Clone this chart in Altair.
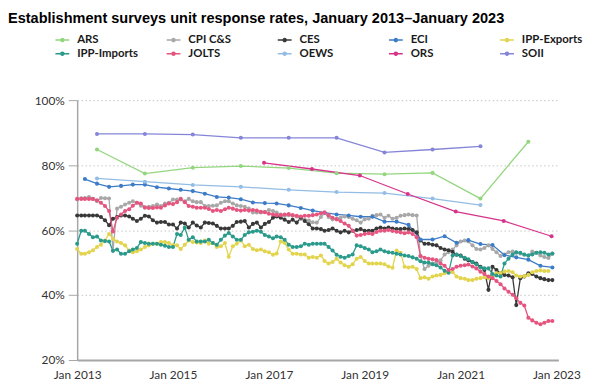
import altair as alt
import pandas as pd

# ---------------- data ----------------
series_order = ["ARS", "CPI C&S", "CES", "ECI", "IPP-Exports",
                "IPP-Imports", "JOLTS", "OEWS", "ORS", "SOII"]
series_colors = ["#93d67e", "#a8a8a8", "#383838", "#3c7cc6", "#e3d44e",
                 "#2a9a8b", "#e5557f", "#93bde4", "#d6348b", "#8585d8"]

ces = [64.5, 64.5, 64.5, 64.5, 64.5, 64.5, 64.0, 63.0, 61.5, 63.5,
       64.0, 64.5, 64.5, 64.2, 63.5, 62.8, 63.5, 64.4, 64.2, 63.0,
       62.3, 62.5, 62.5, 61.7, 61.7, 60.5, 62.3, 62.0, 60.8, 62.3,
       61.4, 60.8, 62.3, 62.2, 62.0, 61.3, 60.5, 60.5, 60.5, 61.3,
       62.5, 62.6, 62.8, 60.8, 61.9, 62.3, 60.8, 61.9, 62.5, 63.8,
       64.2, 63.8, 63.2, 62.5, 63.2, 62.3, 63.8, 62.8, 61.8, 60.5,
       60.5, 60.3, 59.8, 60.0, 60.5, 59.8, 59.3, 59.8, 59.3, 59.8,
       60.0, 60.3, 59.8, 59.8, 59.8, 60.5, 60.8, 60.5, 60.8, 60.5,
       60.3, 60.3, 60.5, 60.3, 60.0, 59.3, 56.8, 55.8, 55.8, 55.5,
       55.3, 54.5, 54.0, 53.8, 53.3, 52.4, 52.2, 51.2, 50.7, 50.2,
       49.7, 48.7, 47.7, 41.6, 48.7, 47.7, 46.7, 46.2, 46.0, 45.5,
       36.9, 45.2, 45.7, 46.7, 46.5, 45.7, 45.2, 44.9, 44.6, 44.6]

cpi = [69.5, 69.8, 69.9, 70.2, 69.6, 68.9, 69.9, 69.8, 69.7, 53.7,
       66.6, 67.2, 67.9, 68.4, 68.9, 68.4, 67.5, 66.9, 67.2, 67.4,
       67.9, 67.4, 68.2, 68.4, 69.4, 69.4, 69.4, 68.9, 69.6, 68.9,
       68.6, 68.6, 67.4, 67.4, 67.5, 67.6, 68.4, 68.9, 68.9, 68.2,
       67.6, 67.4, 67.2, 66.6, 65.4, 65.4, 65.4, 65.6, 66.2, 65.9,
       65.4, 64.8, 64.4, 64.6, 64.4, 64.2, 63.4, 63.2, 62.9, 62.4,
       62.3, 64.0, 65.2, 64.0, 63.3, 63.5, 63.8, 64.2, 64.0, 63.5,
       63.0, 62.3, 63.3, 63.5, 64.4, 64.6, 64.8, 63.8, 64.4, 63.5,
       63.8, 64.4, 64.6, 64.8, 64.6, 64.5, 52.0, 48.0, 49.0, 49.7,
       50.2, 50.7, 52.5, 53.2, 54.0, 55.3, 56.5, 56.8, 56.5, 55.3,
       54.2, 54.0, 54.5, 55.3, 54.2, 53.2, 52.0, 52.5, 53.2, 53.4,
       53.0, 52.8, 52.4, 52.2, 53.4, 53.0, 52.2, 51.7, 51.4, 52.7]

jolts = [69.6, 69.6, 69.6, 69.6, 69.6, 69.2, 68.4, 67.4, 65.9, 59.6,
         63.8, 64.8, 65.9, 66.4, 67.5, 68.4, 68.2, 67.0, 66.8, 66.8,
         67.0, 66.9, 67.6, 68.2, 68.0, 68.6, 69.6, 68.6, 67.4, 67.2,
         66.9, 66.9, 66.9, 66.5, 65.9, 66.2, 65.9, 66.4, 66.9, 66.6,
         66.2, 66.0, 66.2, 66.0, 66.2, 66.0, 65.6, 65.5, 65.0, 64.8,
         64.6, 64.6, 64.8, 64.9, 64.6, 64.4, 64.2, 64.4, 64.4, 64.6,
         64.8, 65.2, 65.4, 64.6, 63.8, 63.3, 62.8, 62.0, 61.3, 59.8,
         58.3, 58.5, 58.8, 59.0, 58.8, 59.4, 59.8, 59.8, 60.0, 59.7,
         59.5, 59.3, 59.0, 59.3, 58.8, 57.8, 52.0, 51.5, 51.2, 51.0,
         50.8, 49.7, 49.0, 47.7, 48.0, 48.7, 49.0, 49.2, 49.4, 48.8,
         48.2, 47.2, 46.5, 45.7, 45.2, 44.3, 43.3, 42.0, 41.0, 40.1,
         39.0, 37.6, 36.8, 33.0, 32.2, 31.5, 31.0, 31.5, 32.0, 32.0]

ipp_imports = [55.8, 59.8, 59.8, 58.8, 57.8, 58.0, 56.8, 56.6, 56.5, 53.6,
               54.0, 52.7, 52.7, 53.5, 54.0, 54.5, 56.3, 56.0, 55.8, 55.8,
               55.8, 55.5, 55.2, 54.8, 54.8, 58.8, 58.5, 60.8, 57.0, 57.8,
               56.5, 56.5, 56.5, 57.0, 56.0, 55.5, 57.0, 58.3, 59.1, 58.0,
               57.0, 57.0, 58.5, 59.3, 59.5, 59.8, 59.5, 58.5, 58.0, 57.5,
               58.0, 57.8, 57.0, 55.5, 54.8, 54.8, 55.0, 55.8, 55.5, 55.8,
               55.8, 55.8, 55.8, 54.8, 53.7, 52.4, 51.8, 51.5, 52.0, 52.5,
               55.3, 55.0, 54.5, 54.0, 53.2, 53.5, 54.0, 53.5, 53.2, 53.0,
               52.7, 52.5, 52.2, 52.0, 51.6, 51.2, 50.4, 50.0, 50.0, 49.5,
               49.2, 48.5, 47.5, 46.9, 52.2, 52.5, 52.0, 51.5, 51.0, 50.2,
               49.5, 48.5, 48.2, 48.2, 46.5, 46.0, 45.7, 49.7, 51.2, 52.5,
               53.2, 53.0, 52.5, 52.2, 52.5, 53.0, 53.2, 53.0, 52.5, 52.8]

ipp_exports = [54.2, 52.7, 52.7, 53.2, 53.8, 54.8, 55.5, 56.8, 58.8, 57.3,
               56.5, 56.0, 55.3, 53.7, 53.2, 53.5, 54.0, 54.8, 55.3, 55.8,
               55.8, 56.3, 56.3, 56.0, 55.3, 55.3, 54.2, 55.5, 56.8, 56.3,
               56.2, 56.0, 56.8, 55.8, 56.0, 54.8, 55.0, 56.0, 51.8, 55.0,
               55.8, 56.8, 55.0, 55.5, 54.2, 53.8, 54.0, 53.5, 53.2, 52.4,
               52.8, 56.5, 56.0, 54.0, 52.7, 52.7, 52.5, 52.5, 51.5, 51.7,
               51.5, 52.2, 50.5, 49.7, 50.2, 51.2, 50.0, 49.2, 48.7, 49.5,
               51.2, 51.7, 50.5, 49.7, 49.7, 49.7, 49.7, 49.5, 48.8, 48.4,
               53.7, 53.0, 48.7, 48.5, 48.7, 48.0, 45.2, 45.5, 45.0, 45.7,
               46.0, 46.2, 46.7, 47.2, 47.0, 45.7, 45.2, 45.0, 44.6, 44.6,
               45.0, 45.2, 45.5, 45.2, 45.8, 46.7, 46.8, 47.2, 47.4, 47.0,
               46.0, 45.7, 45.8, 46.2, 47.0, 47.4, 47.6, 47.4, 47.4]

eci = [75.7, 74.3, 73.3, 73.6, 74.0, 74.0, 73.2, 72.8, 72.4, 72.0,
       71.2, 70.2, 70.0, 69.5, 68.5, 68.3, 68.2, 67.6, 66.8, 66.0,
       65.4, 64.8, 64.5, 64.1, 64.1, 62.6, 62.6, 61.6, 57.1, 57.1,
       58.1, 56.1, 56.9, 55.7, 55.4, 52.3, 51.6, 50.9, 49.0, 48.5]

annual_years = [2013, 2014, 2015, 2016, 2017, 2018, 2019, 2020, 2021, 2022]
soii = [89.6, 89.6, 89.4, 88.4, 88.4, 88.4, 83.9, 84.8, 85.8]
oews = [75.9, 74.9, 73.9, 73.3, 72.4, 71.7, 71.4, 69.7, 67.7]
ars = [84.8, 77.4, 79.2, 79.7, 79.1, 77.5, 77.2, 77.6, 69.7, 87.2]
ors_years = [2016, 2017, 2018, 2019, 2020, 2021, 2022]
ors = [80.7, 78.8, 76.8, 71.1, 65.7, 62.8, 58.1]

# ---------------- build long table ----------------
rows = []


def monthly(name, vals):
    dates = pd.date_range("2013-01-01", periods=len(vals), freq="MS")
    for d, v in zip(dates, vals):
        rows.append({"series": name, "date": d.strftime("%Y-%m-%d"), "value": v})


def annual(name, years, vals, md):
    for y, v in zip(years, vals):
        rows.append({"series": name, "date": f"{y}-{md}", "value": v})


annual("ARS", annual_years, ars, "06-01")
monthly("CPI C&S", cpi)
monthly("CES", ces)
for d, v in zip(pd.date_range("2013-03-01", periods=len(eci), freq="3MS"), eci):
    rows.append({"series": "ECI", "date": d.strftime("%Y-%m-%d"), "value": v})
monthly("IPP-Exports", ipp_exports)
monthly("IPP-Imports", ipp_imports)
monthly("JOLTS", jolts)
annual("OEWS", annual_years, oews, "06-01")
annual("ORS", ors_years, ors, "11-25")
annual("SOII", annual_years, soii, "06-01")

df = pd.DataFrame(rows)
df["value"] = df["value"] / 100.0

legend_symbol = "M-1,0H1M0,-0.22A0.22,0.22,0,1,1,0,0.22A0.22,0.22,0,1,1,0,-0.22Z"

x_ticks = [alt.DateTime(year=y, month=1, date=1, utc=True) for y in range(2013, 2024, 2)]

chart = alt.Chart(df).mark_line(
    strokeWidth=1.3,
    point=alt.OverlayMarkDef(filled=True, size=17, opacity=1),
).encode(
    x=alt.X("date:T",
            scale=alt.Scale(type="utc",
                            domain=[alt.DateTime(year=2013, month=1, date=1, utc=True),
                                    alt.DateTime(year=2023, month=1, date=16, utc=True)]),
            axis=alt.Axis(title=None, values=x_ticks, format="%b %Y", ticks=False,
                          grid=False, labelPadding=10, domainColor="#a6a6a6",
                          domainWidth=2, labelFlush=False)),
    y=alt.Y("value:Q",
            scale=alt.Scale(domain=[0.2, 1.0], nice=False, zero=False),
            axis=alt.Axis(title=None, values=[0.2, 0.4, 0.6, 0.8, 1.0], format=".0%",
                          tickSize=9, tickColor="#a6a6a6", labelPadding=4,
                          domainColor="#a6a6a6", domainWidth=1.5,
                          gridDash=[1.5, 2.5], gridColor="#c4c4c4", gridWidth=1)),
    color=alt.Color("series:N",
                    scale=alt.Scale(domain=series_order, range=series_colors),
                    sort=series_order,
                    legend=alt.Legend(orient="none", legendX=-23, legendY=-69,
                                      direction="horizontal", columns=5, title=None,
                                      symbolType=legend_symbol, symbolSize=196,
                                      symbolStrokeWidth=1.5, gridAlign="all",
                                      columnPadding=25.5, rowPadding=0, labelOffset=7,
                                      padding=0, labelFont="Lato",
                                      labelFontSize=11.5, labelFontWeight="bold",
                                      labelColor="#1a1a1a", labelLimit=200)),
).properties(
    width=487,
    height=263,
    title=alt.TitleParams(
        "Establishment surveys unit response rates, January 2013\u2013January 2023",
        anchor="start", frame="group", dx=-70, font="Liberation Sans",
        fontSize=14.7, fontWeight="bold", color="#000000", offset=6),
    padding={"left": 70, "top": 91, "right": 34, "bottom": 20},
    autosize=alt.AutoSizeParams(type="none"),
).configure_view(
    stroke=None
).configure_axis(
    labelFont="Lato", labelFontSize=12, labelColor="#333333",
)

chart.save("out.html", embed_options={"renderer": "svg", "actions": False})
